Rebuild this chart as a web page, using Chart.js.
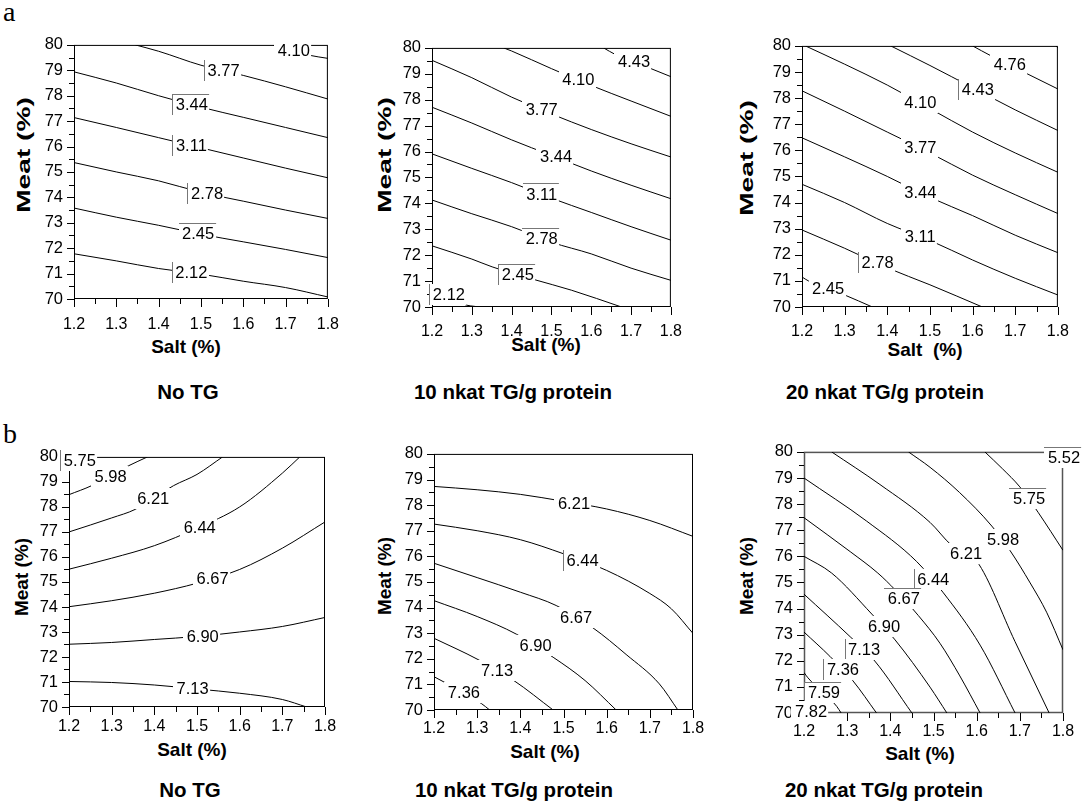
<!DOCTYPE html>
<html>
<head>
<meta charset="utf-8">
<script src="https://cdn.jsdelivr.net/npm/chart.js@4.4.1/dist/chart.umd.min.js"></script>
<style>
  body { margin: 0; background: #fff; }
  #page { position: relative; width: 1082px; height: 807px; overflow: hidden;
          font-family: "Liberation Sans", Arial, sans-serif; color: #000; }
  canvas { position: absolute; }
  .t { position: absolute; white-space: pre; font-weight: bold; transform: translate(-50%, -50%); }
  .cap { font-size: 20.5px; }
  .ax { font-size: 19px; }
  .meat { transform: translate(-50%, -50%) rotate(-90deg); }
  .meat.long { transform: translate(-50%, -50%) rotate(-90deg) scaleX(1.48); }
  .tag { position: absolute; font-family: "Liberation Serif", serif; font-size: 28px; line-height: 1; }
</style>
</head>
<body>
<div id="page">
  <div class="tag" style="left:3px;top:-2px">a</div>
  <div class="tag" style="left:3px;top:420px">b</div>

  <div class="t ax meat long" style="left:24px;top:155px">Meat (%)</div>
  <div class="t ax meat long" style="left:385px;top:155px">Meat (%)</div>
  <div class="t ax meat long" style="left:747px;top:158px">Meat (%)</div>
  <div class="t ax meat" style="left:22px;top:577px">Meat (%)</div>
  <div class="t ax meat" style="left:385px;top:576px">Meat (%)</div>
  <div class="t ax meat" style="left:747px;top:576px">Meat (%)</div>

  <div class="t ax" style="left:186px;top:347px">Salt (%)</div>
  <div class="t ax" style="left:546px;top:345px">Salt (%)</div>
  <div class="t ax" style="left:925px;top:350px">Salt  (%)</div>
  <div class="t ax" style="left:192px;top:750px">Salt (%)</div>
  <div class="t ax" style="left:545px;top:752px">Salt (%)</div>
  <div class="t ax" style="left:920px;top:754px">Salt (%)</div>

  <div class="t cap" style="left:188px;top:392px">No TG</div>
  <div class="t cap" style="left:513px;top:392px">10 nkat TG/g protein</div>
  <div class="t cap" style="left:885px;top:392px">20 nkat TG/g protein</div>
  <div class="t cap" style="left:190px;top:790px">No TG</div>
  <div class="t cap" style="left:514px;top:790px">10 nkat TG/g protein</div>
  <div class="t cap" style="left:884px;top:790px">20 nkat TG/g protein</div>
</div>

<script>
const saltTicks = [1.2, 1.3, 1.4, 1.5, 1.6, 1.7, 1.8];
const meatTicks = [70, 71, 72, 73, 74, 75, 76, 77, 78, 79, 80];

// a - No TG
const levelsA1 = ['2.12', '2.45', '2.78', '3.11', '3.44', '3.77', '4.10'];
const linesA1 = [
  [[1.2, 71.78], [1.3, 71.5], [1.4, 71.2], [1.5, 70.98], [1.6, 70.7], [1.7, 70.45], [1.8, 70.08]],
  [[1.2, 73.58], [1.3, 73.22], [1.4, 72.9], [1.5, 72.55], [1.6, 72.25], [1.7, 71.95], [1.8, 71.63]],
  [[1.2, 75.37], [1.3, 75.0], [1.4, 74.65], [1.5, 74.2], [1.6, 73.85], [1.7, 73.5], [1.8, 73.17]],
  [[1.2, 77.14], [1.3, 76.75], [1.4, 76.35], [1.5, 75.95], [1.6, 75.55], [1.7, 75.15], [1.8, 74.77]],
  [[1.2, 78.94], [1.3, 78.5], [1.4, 78.0], [1.5, 77.55], [1.6, 77.15], [1.7, 76.75], [1.8, 76.35]],
  [[1.345, 80], [1.4, 79.75], [1.5, 79.2], [1.6, 78.8], [1.7, 78.35], [1.8, 77.87]],
  [[1.67, 80], [1.754, 79.6], [1.8, 79.47]]
];
const labelAtA1 = [1.475, 1.491, 1.512, 1.475, 1.476, 1.551, 1.717];

// a - 10 nkat TG/g protein
const levelsA2 = ['2.12', '2.45', '2.78', '3.11', '3.44', '3.77', '4.10', '4.43'];
const linesA2 = [
  [[1.2, 70.75], [1.24, 70.5], [1.277, 70.12], [1.318, 70]],
  [[1.2, 72.36], [1.3, 71.85], [1.351, 71.55], [1.454, 71.07], [1.55, 70.65], [1.676, 70]],
  [[1.2, 74.13], [1.3, 73.6], [1.4, 73.1], [1.5, 72.5], [1.6, 72.05], [1.7, 71.5], [1.8, 71.03]],
  [[1.2, 75.91], [1.3, 75.35], [1.4, 74.8], [1.5, 74.2], [1.6, 73.65], [1.7, 73.1], [1.8, 72.58]],
  [[1.2, 77.71], [1.3, 77.1], [1.4, 76.45], [1.5, 75.85], [1.6, 75.25], [1.7, 74.7], [1.8, 74.18]],
  [[1.2, 79.52], [1.3, 78.85], [1.4, 78.1], [1.5, 77.45], [1.6, 76.85], [1.7, 76.3], [1.8, 75.79]],
  [[1.38, 80], [1.4, 79.88], [1.5, 79.2], [1.6, 78.55], [1.7, 77.95], [1.8, 77.36]],
  [[1.631, 80], [1.66, 79.75], [1.742, 79.25], [1.8, 78.89]]
];
const labelAtA2 = [1.24, 1.413, 1.473, 1.473, 1.509, 1.473, 1.565, 1.705];

// a - 20 nkat TG/g protein
const levelsA3 = ['2.45', '2.78', '3.11', '3.44', '3.77', '4.10', '4.43', '4.76', ''];
const linesA3 = [
  [[1.2, 71.15], [1.215, 71.0], [1.3, 70.46], [1.365, 70]],
  [[1.2, 72.95], [1.3, 72.25], [1.4, 71.5], [1.5, 70.85], [1.623, 70]],
  [[1.2, 74.7], [1.3, 74.0], [1.4, 73.2], [1.5, 72.55], [1.6, 71.8], [1.7, 71.1], [1.8, 70.46]],
  [[1.2, 76.48], [1.3, 75.75], [1.4, 75.0], [1.5, 74.2], [1.6, 73.5], [1.7, 72.75], [1.8, 72.08]],
  [[1.2, 78.28], [1.3, 77.5], [1.4, 76.7], [1.5, 75.9], [1.6, 75.05], [1.7, 74.3], [1.8, 73.58]],
  [[1.208, 80], [1.3, 79.3], [1.4, 78.5], [1.5, 77.6], [1.6, 76.7], [1.7, 75.9], [1.8, 75.16]],
  [[1.408, 80], [1.5, 79.25], [1.6, 78.4], [1.7, 77.55], [1.8, 76.76]],
  [[1.6, 80], [1.642, 79.63], [1.727, 78.94], [1.8, 78.35]],
  [[1.795, 80], [1.8, 79.93]]
];
const labelAtA3 = [1.259, 1.375, 1.475, 1.475, 1.475, 1.475, 1.61, 1.685, null];

// b - No TG
const levelsB1 = ['7.13', '6.90', '6.67', '6.44', '6.21', '5.98', '5.75'];
const linesB1 = [
  [[1.2, 71.02], [1.3, 70.98], [1.4, 70.88], [1.5, 70.72], [1.6, 70.55], [1.7, 70.3], [1.757, 70]],
  [[1.2, 72.51], [1.3, 72.58], [1.4, 72.7], [1.5, 72.82], [1.6, 73.0], [1.7, 73.22], [1.8, 73.58]],
  [[1.2, 74.01], [1.3, 74.25], [1.4, 74.55], [1.5, 74.95], [1.6, 75.5], [1.7, 76.35], [1.8, 77.4]],
  [[1.2, 75.51], [1.3, 75.95], [1.4, 76.45], [1.5, 77.15], [1.6, 78.0], [1.7, 79.35], [1.741, 80]],
  [[1.2, 77.0], [1.3, 77.56], [1.355, 77.9], [1.445, 78.85], [1.5, 79.3], [1.56, 80]],
  [[1.2, 78.49], [1.253, 78.85], [1.339, 79.64], [1.384, 80]],
  [[1.2, 79.75], [1.26, 80]]
];
const labelAtB1 = [1.4875, 1.511, 1.534, 1.504, 1.395, 1.295, 1.223];

// b - 10 nkat TG/g protein
const levelsB2 = ['6.21', '6.44', '6.67', '6.90', '7.13', '7.36'];
const linesB2 = [
  [[1.2, 78.73], [1.3, 78.6], [1.4, 78.42], [1.5, 78.15], [1.6, 77.85], [1.7, 77.4], [1.8, 76.78]],
  [[1.2, 77.26], [1.3, 77.0], [1.4, 76.65], [1.5, 76.1], [1.6, 75.45], [1.7, 74.55], [1.75, 73.95], [1.8, 72.99]],
  [[1.2, 75.73], [1.3, 75.17], [1.4, 74.6], [1.483, 74.08], [1.568, 73.21], [1.645, 72.17], [1.722, 71.02], [1.765, 70]],
  [[1.2, 74.27], [1.3, 73.65], [1.391, 72.96], [1.476, 72.06], [1.55, 71.15], [1.622, 70]],
  [[1.2, 72.8], [1.302, 71.97], [1.385, 71.15], [1.476, 70]],
  [[1.2, 71.3], [1.229, 71.04], [1.31, 70.25], [1.329, 70]]
];
const labelAtB2 = [1.522, 1.542, 1.527, 1.433, 1.344, 1.267];

// b - 20 nkat TG/g protein
const levelsB3 = ['5.52', '5.75', '5.98', '6.21', '6.44', '6.67', '6.90', '7.13', '7.36', '7.59', '7.82'];
const linesB3 = [
  [[1.785, 80], [1.8, 79.8]],
  [[1.619, 80], [1.66, 79.35], [1.7, 78.66], [1.743, 77.67], [1.8, 76.23]],
  [[1.442, 80], [1.492, 79.41], [1.56, 78.45], [1.635, 77.16], [1.677, 76.23], [1.724, 74.98], [1.762, 73.86], [1.8, 72.42]],
  [[1.264, 80], [1.376, 78.75], [1.492, 77.3], [1.542, 76.42], [1.6, 75.82], [1.689, 72.73], [1.768, 70]],
  [[1.2, 79.0], [1.345, 77.35], [1.461, 75.8], [1.523, 74.6], [1.608, 72.6], [1.689, 70]],
  [[1.2, 77.48], [1.307, 76.18], [1.371, 75.36], [1.411, 74.72], [1.465, 73.73], [1.515, 72.67], [1.561, 71.42], [1.608, 70]],
  [[1.2, 76.0], [1.264, 75.36], [1.357, 73.79], [1.411, 72.8], [1.492, 70.99], [1.531, 70]],
  [[1.2, 74.55], [1.307, 72.92], [1.364, 71.99], [1.45, 70]],
  [[1.2, 73.1], [1.26, 72.17], [1.313, 71.24], [1.368, 70]],
  [[1.2, 71.55], [1.209, 71.35], [1.276, 70.25], [1.286, 70]],
  [[1.2, 70.12], [1.228, 70]]
];
const labelAtB3 = [1.8, 1.719, 1.659, 1.573, 1.497, 1.429, 1.383, 1.337, 1.288, 1.244, 1.214];

// plot boxes are page pixels: left, top, right, bottom of the plotting frame
const panels = [
  { box: [74, 39, 333, 299], levels: levelsA1, lines: linesA1, labelAt: labelAtA1, tickPad: 16,
    edges: ['L', 'T', 'L', 'L', 'LT', 'L', ''] },
  { box: [432, 42, 675, 307], levels: levelsA2, lines: linesA2, labelAt: labelAtA2, tickPad: 15,
    edges: ['L', 'LT', 'T', 'T', '', '', '', ''] },
  { box: [802, 40, 1062, 307], levels: levelsA3, lines: linesA3, labelAt: labelAtA3, tickPad: 15,
    edges: ['', 'L', '', '', '', '', 'L', '', ''] },
  { box: [69, 451, 325, 707], levels: levelsB1, lines: linesB1, labelAt: labelAtB1, tickPad: 10,
    edges: ['', '', '', '', '', '', 'L'] },
  { box: [434, 448, 693, 710], levels: levelsB2, lines: linesB2, labelAt: labelAtB2, tickPad: 9,
    edges: ['', 'L', '', '', '', ''] },
  { box: [804, 446, 1063, 713], levels: levelsB3, lines: linesB3, labelAt: labelAtB3, tickPad: 9,
    frame: 1.5, frameColor: '#555',
    edges: ['T', 'T', '', '', 'L', 'T', '', 'L', 'L', 'LT', ''] }
];

function yAt(pts, x) {
  if (x <= pts[0][0]) return pts[0][1];
  for (let i = 1; i < pts.length; i++) {
    if (x <= pts[i][0]) {
      const [x0, y0] = pts[i - 1], [x1, y1] = pts[i];
      return y0 + (y1 - y0) * (x - x0) / (x1 - x0);
    }
  }
  return pts[pts.length - 1][1];
}

// box, major and minor ticks (all outward)
const frameTicks = {
  id: 'frameTicks',
  beforeDatasetsDraw(chart, args, opts) {
    const { ctx, chartArea: a, scales: { x, y } } = chart;
    ctx.save();
    ctx.strokeStyle = opts.color || '#000';
    ctx.lineWidth = opts.width || 1;
    ctx.strokeRect(a.left + 0.5, a.top + 0.5, a.right - a.left - 1, a.bottom - a.top - 1);
    ctx.strokeStyle = '#000';
    ctx.lineWidth = 1;
    ctx.beginPath();
    saltTicks.forEach((v, i) => {
      const px = Math.round(x.getPixelForValue(v)) + 0.5;
      ctx.moveTo(px, a.bottom); ctx.lineTo(px, a.bottom + 8);
      if (i < saltTicks.length - 1) {
        const m = Math.round(x.getPixelForValue((v + saltTicks[i + 1]) / 2)) + 0.5;
        ctx.moveTo(m, a.bottom); ctx.lineTo(m, a.bottom + 5);
      }
    });
    meatTicks.forEach((v, i) => {
      const py = Math.round(y.getPixelForValue(v)) + 0.5;
      ctx.moveTo(a.left, py); ctx.lineTo(a.left - 7, py);
      if (i < meatTicks.length - 1) {
        const m = Math.round(y.getPixelForValue((v + meatTicks[i + 1]) / 2)) + 0.5;
        ctx.moveTo(a.left, m); ctx.lineTo(a.left - 5, m);
      }
    });
    ctx.stroke();
    ctx.restore();
  }
};

// contour level labels sitting on their line, with a white box that breaks it
const contourLabels = {
  id: 'contourLabels',
  afterDatasetsDraw(chart) {
    const { ctx, scales: { x, y } } = chart;
    ctx.save();
    ctx.font = '16.5px "Liberation Sans", Arial, sans-serif';
    ctx.textAlign = 'center';
    ctx.textBaseline = 'middle';
    chart.data.datasets.forEach(ds => {
      if (ds.labelAt == null || !ds.label) return;
      const px = x.getPixelForValue(ds.labelAt);
      const py = y.getPixelForValue(yAt(ds.pts, ds.labelAt));
      const w = ctx.measureText(ds.label).width + 5, h = 21;
      const x0 = Math.round(px - w / 2), y0 = Math.round(py - h / 2);
      ctx.fillStyle = '#fff';
      ctx.fillRect(x0, y0, w, h);
      ctx.strokeStyle = '#777';
      ctx.lineWidth = 1;
      ctx.beginPath();
      if (ds.edge.includes('L')) { ctx.moveTo(x0 + 0.5, y0); ctx.lineTo(x0 + 0.5, y0 + h); }
      if (ds.edge.includes('T')) { ctx.moveTo(x0, y0 + 0.5); ctx.lineTo(x0 + w, y0 + 0.5); }
      ctx.stroke();
      ctx.fillStyle = '#000';
      ctx.fillText(ds.label, px + 1, py + 1);
    });
    ctx.restore();
  }
};

Chart.defaults.font.family = '"Liberation Sans", Arial, sans-serif';

const page = document.getElementById('page');
panels.forEach(p => {
  const [L, T, R, B] = p.box;
  const cv = document.createElement('canvas');
  cv.width = R - L + 92;
  cv.height = B - T + 77;
  cv.style.left = (L - 70) + 'px';
  cv.style.top = (T - 15) + 'px';
  page.appendChild(cv);

  new Chart(cv, {
    type: 'scatter',
    data: {
      datasets: p.lines.map((pts, i) => ({
        label: p.levels[i],
        labelAt: p.labelAt[i],
        edge: p.edges[i],
        pts: pts,
        data: pts.map(([sx, my]) => ({ x: sx, y: my })),
        showLine: true,
        borderColor: '#000',
        borderWidth: 1,
        pointRadius: 0,
        cubicInterpolationMode: 'monotone'
      }))
    },
    options: {
      responsive: false,
      animation: false,
      events: [],
      layout: { padding: { top: 15, right: 22, left: 0, bottom: 0 } },
      plugins: {
        legend: { display: false },
        tooltip: { enabled: false },
        frameTicks: { width: p.frame || 1, color: p.frameColor || '#000' }
      },
      scales: {
        x: {
          type: 'linear', min: 1.2, max: 1.8,
          afterBuildTicks: s => { s.ticks = saltTicks.map(v => ({ value: v })); },
          afterFit: s => { s.height = 62; },
          ticks: { padding: p.tickPad, color: '#000', font: { size: 16 }, autoSkip: false, maxRotation: 0,
                   callback: v => v.toFixed(1) },
          grid: { display: false, drawTicks: false },
          border: { display: false }
        },
        y: {
          type: 'linear', min: 70, max: 80,
          afterBuildTicks: s => { s.ticks = meatTicks.map(v => ({ value: v })); },
          afterFit: s => { s.width = 70; },
          ticks: { padding: 11, color: '#000', font: { size: 16.5 }, autoSkip: false,
                   callback: v => String(v) },
          grid: { display: false, drawTicks: false },
          border: { display: false }
        }
      }
    },
    plugins: [frameTicks, contourLabels]
  });
});
</script>
</body>
</html>
